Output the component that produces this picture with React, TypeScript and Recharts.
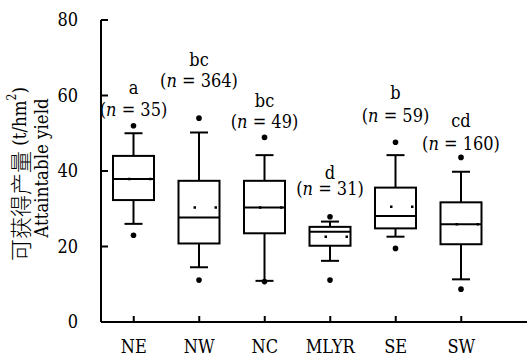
import React from 'react';
import { ComposedChart, Bar, XAxis, YAxis, Customized } from 'recharts';

const categories = ['NE', 'NW', 'NC', 'MLYR', 'SE', 'SW'];
const lowDot = [23.0, 11.1, 10.7, 11.1, 19.5, 8.7];
const whiskerLow = [26.0, 14.5, 10.9, 16.2, 22.6, 11.3];
const q1 = [32.3, 20.8, 23.5, 20.2, 24.8, 20.6];
const median = [37.9, 27.7, 30.3, 23.9, 28.1, 25.9];
const mean = [37.9, 30.3, 30.3, 22.6, 30.5, 25.9];
const q3 = [44.0, 37.4, 37.4, 25.2, 35.6, 31.7];
const whiskerHigh = [50.0, 50.2, 44.2, 26.6, 44.2, 39.8];
const highDot = [52.0, 54.0, 48.9, 27.9, 47.6, 43.6];
const letters = ['a', 'bc', 'bc', 'd', 'b', 'cd'];
const counts = [35, 364, 49, 31, 59, 160];
const letterAt = [60.3, 67.8, 56.9, 38.0, 59.0, 51.6];
const countAt = [54.6, 62.2, 51.3, 33.7, 52.9, 45.6];
const yTicks = [0, 20, 40, 60, 80];

const data = categories.map((name, i) => ({
  name,
  range: [lowDot[i], highDot[i]],
  lowDot: lowDot[i],
  whiskerLow: whiskerLow[i],
  q1: q1[i],
  median: median[i],
  mean: mean[i],
  q3: q3[i],
  whiskerHigh: whiskerHigh[i],
  highDot: highDot[i],
  letter: letters[i],
  count: counts[i],
  letterAt: letterAt[i],
  countAt: countAt[i],
}));

const FONT = '"DejaVu Serif Condensed", "DejaVu Serif", serif';
const CJK = '"Noto Sans CJK SC", "Noto Sans CJK JP", sans-serif';
const FS = 18;

const BoxShape = (props: any) => {
  const { x, y, width, height, payload } = props;
  const top = Math.min(y, y + height);
  const bottom = Math.max(y, y + height);
  const lo = payload.lowDot;
  const hi = payload.highDot;
  const py = (v: number) => bottom - ((v - lo) / (hi - lo)) * (bottom - top);
  const cx = x + width / 2;
  const cap = 9;
  const sw = 2;
  return (
    <g>
      <line x1={cx} x2={cx} y1={py(payload.whiskerHigh)} y2={py(payload.q3)} stroke="#000" strokeWidth={sw} />
      <line x1={cx} x2={cx} y1={py(payload.q1)} y2={py(payload.whiskerLow)} stroke="#000" strokeWidth={sw} />
      <line x1={cx - cap} x2={cx + cap} y1={py(payload.whiskerHigh)} y2={py(payload.whiskerHigh)} stroke="#000" strokeWidth={sw} />
      <line x1={cx - cap} x2={cx + cap} y1={py(payload.whiskerLow)} y2={py(payload.whiskerLow)} stroke="#000" strokeWidth={sw} />
      <rect x={x} y={py(payload.q3)} width={width} height={py(payload.q1) - py(payload.q3)} fill="#fff" stroke="#000" strokeWidth={sw} />
      <line x1={x} x2={x + width} y1={py(payload.median)} y2={py(payload.median)} stroke="#000" strokeWidth={sw} />
      <line x1={x} x2={x + width} y1={py(payload.mean)} y2={py(payload.mean)} stroke="#000" strokeWidth={2.5} strokeDasharray="2.5 18.5" strokeDashoffset={-15} />
      <circle cx={cx} cy={py(payload.highDot)} r={2.8} fill="#000" />
      <circle cx={cx} cy={py(payload.lowDot)} r={2.8} fill="#000" />
      <text x={cx} y={py(payload.letterAt)} textAnchor="middle" style={{ fontFamily: FONT, fontSize: FS }} fill="#000">{payload.letter}</text>
      <text x={cx} y={py(payload.countAt)} textAnchor="middle" style={{ fontFamily: FONT, fontSize: FS }} fill="#000">
        (<tspan fontStyle="italic">n</tspan> = {payload.count})
      </text>
    </g>
  );
};

const YLabel = () => (
  <g style={{ fontFamily: FONT, fontSize: 18.5 }} fill="#000">
    <text transform="translate(19,174) rotate(-90)" textAnchor="middle" dominantBaseline="central" fill="#000">
      <tspan style={{ fontFamily: CJK, fontSize: 22, fontWeight: 300 }} fill="#000">可获得产量</tspan> (t/hm<tspan style={{ fontSize: 12 }} dy={-7}>2</tspan><tspan dy={7}>)</tspan>
    </text>
    <text transform="translate(41,168) rotate(-90)" textAnchor="middle" dominantBaseline="central" fill="#000">
      Attaintable yield
    </text>
  </g>
);

export default function App() {
  return (
    <div style={{ position: 'absolute', left: 0, top: 0, background: '#fff' }}>
      <ComposedChart width={528} height={358} data={data} margin={{ top: 20, right: 1, bottom: 0, left: 0 }}>
        <XAxis
          dataKey="name"
          type="category"
          height={36}
          padding={{ left: 0, right: 33 }}
          axisLine={{ stroke: '#000', strokeWidth: 2 }}
          tickLine={{ stroke: '#000', strokeWidth: 2 }}
          tickSize={-6}
          tickMargin={24}
          tick={{ fill: '#000', style: { fontFamily: FONT }, fontSize: FS }}
          interval={0}
        />
        <YAxis
          type="number"
          domain={[0, 80]}
          ticks={yTicks}
          width={101}
          axisLine={{ stroke: '#000', strokeWidth: 2 }}
          tickLine={{ stroke: '#000', strokeWidth: 2 }}
          tickSize={-7}
          tickMargin={30}
          tick={{ fill: '#000', style: { fontFamily: FONT }, fontSize: FS }}
          interval={0}
        />
        <Bar dataKey="range" barSize={41} shape={<BoxShape />} isAnimationActive={false} />
        <Customized component={YLabel} />
      </ComposedChart>
    </div>
  );
}
